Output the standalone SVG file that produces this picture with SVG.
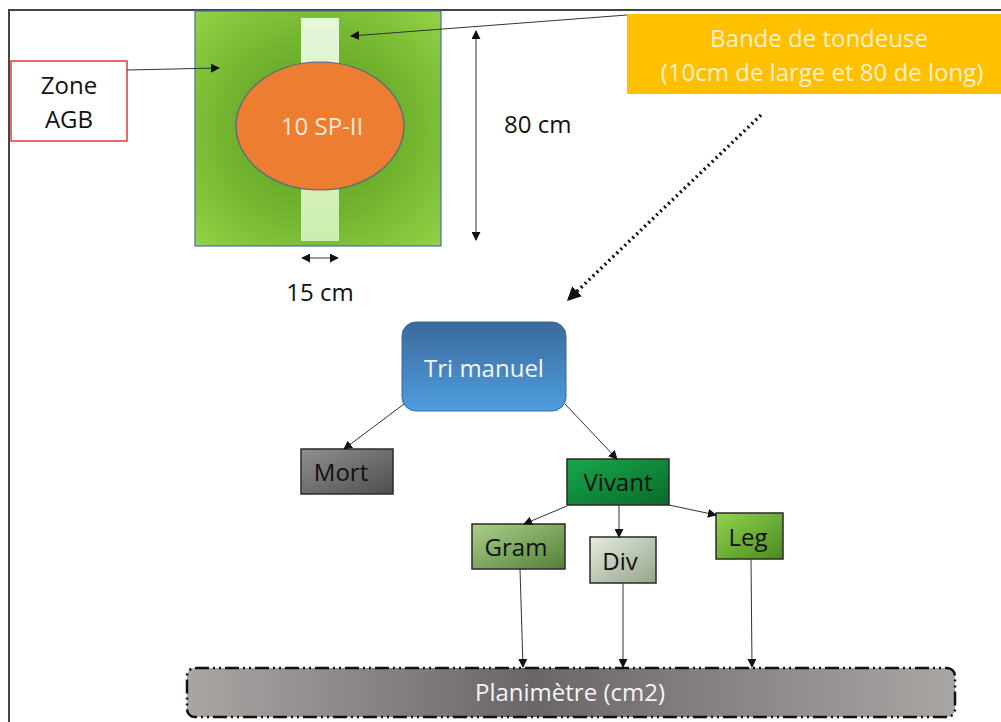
<svg xmlns="http://www.w3.org/2000/svg" width="1001" height="722" viewBox="0 0 1001 722">
<style>
  text { font-family: "Open Sans", "Liberation Sans", sans-serif; }
  .conn { stroke: #333; stroke-width: 1; fill: none; }
  .box { stroke: #2a2a2a; stroke-width: 1.5; }
  .dark { fill: #111; font-size: 24px; text-anchor: middle; }
  .light { fill: #f4f4f4; font-size: 24px; text-anchor: middle; }
</style>
<defs>
  <marker id="ah" viewBox="0 0 10 10" refX="9" refY="5" markerWidth="9" markerHeight="9" markerUnits="userSpaceOnUse" orient="auto-start-reverse">
    <path d="M0,0 L10,5 L0,10 z" fill="#111"/>
  </marker>
  <marker id="ahBig" viewBox="0 0 10 10" refX="9" refY="5" markerWidth="14" markerHeight="14" markerUnits="userSpaceOnUse" orient="auto">
    <path d="M0,0 L10,5 L0,10 z" fill="#111"/>
  </marker>
  <radialGradient id="gGreen" cx="0.5" cy="0.5" r="0.7">
    <stop offset="0" stop-color="#5f9f25"/>
    <stop offset="0.5" stop-color="#70b12e"/>
    <stop offset="1" stop-color="#92d245"/>
  </radialGradient>
  <linearGradient id="gStrip" x1="0" y1="0" x2="0" y2="1">
    <stop offset="0" stop-color="#e6f6da"/>
    <stop offset="1" stop-color="#cdeeb0"/>
  </linearGradient>
  <linearGradient id="gBlue" x1="0" y1="0" x2="0" y2="1">
    <stop offset="0" stop-color="#3a6a9a"/>
    <stop offset="1" stop-color="#4f9de0"/>
  </linearGradient>
  <linearGradient id="gMort" x1="0" y1="0" x2="1" y2="1">
    <stop offset="0" stop-color="#909090"/>
    <stop offset="1" stop-color="#4e4e4e"/>
  </linearGradient>
  <linearGradient id="gViv" x1="0" y1="0" x2="1" y2="1">
    <stop offset="0" stop-color="#16a84a"/>
    <stop offset="1" stop-color="#0b6a2a"/>
  </linearGradient>
  <linearGradient id="gGram" x1="0" y1="0" x2="1" y2="1">
    <stop offset="0" stop-color="#a9d08a"/>
    <stop offset="1" stop-color="#557f38"/>
  </linearGradient>
  <linearGradient id="gDiv" x1="0" y1="0" x2="1" y2="1">
    <stop offset="0" stop-color="#e4ecdc"/>
    <stop offset="1" stop-color="#96a48c"/>
  </linearGradient>
  <linearGradient id="gLeg" x1="0" y1="0" x2="1" y2="1">
    <stop offset="0" stop-color="#92d44c"/>
    <stop offset="1" stop-color="#4a8a20"/>
  </linearGradient>
  <linearGradient id="gPlan" x1="0" y1="0" x2="1" y2="0">
    <stop offset="0" stop-color="#aaa6a4"/>
    <stop offset="0.45" stop-color="#6a6668"/>
    <stop offset="1" stop-color="#aaa6a4"/>
  </linearGradient>
</defs>

<!-- outer frame -->
<path d="M9,722 V10 H1001" fill="none" stroke="#444" stroke-width="2"/>

<!-- plot -->
<g id="plot">
  <rect x="195" y="11" width="246" height="235" fill="url(#gGreen)" stroke="#4a6fa0" stroke-width="1.2"/>
  <rect x="301" y="18" width="38" height="223" fill="url(#gStrip)"/>
  <ellipse cx="320" cy="126" rx="84" ry="64" fill="#ed7d31" stroke="#4a6a8a" stroke-width="1.2"/>
  <text x="322" y="135" class="light" style="fill:#fbe9dc">10 SP-II</text>
</g>

<g id="zone-agb">
  <rect x="11" y="61" width="116" height="80" fill="#fff" stroke="#e8373a" stroke-width="1.5"/>
  <text x="69" y="94" class="dark">Zone</text>
  <text x="69" y="128" class="dark">AGB</text>
</g>

<g id="bande">
  <rect x="627" y="14" width="380" height="80" fill="#ffc000"/>
  <text x="819" y="47" class="light" style="fill:#fdf0cc">Bande de tondeuse</text>
  <text x="822" y="81" class="light" style="fill:#fdf0cc">(10cm de large et 80 de long)</text>
</g>

<g id="dim-80">
  <line x1="476" y1="31" x2="476" y2="240" class="conn" stroke="#111" marker-start="url(#ah)" marker-end="url(#ah)"/>
  <text x="504" y="133" font-size="24" fill="#111">80 cm</text>
</g>

<g id="dim-15">
  <line x1="302" y1="258" x2="338" y2="258" class="conn" stroke="#111" marker-start="url(#ah)" marker-end="url(#ah)"/>
  <text x="320" y="301" class="dark">15 cm</text>
</g>

<g id="tri-manuel">
  <rect x="402" y="322" width="164" height="89" rx="14" fill="url(#gBlue)" stroke="#3a6a9a" stroke-width="1"/>
  <text x="484" y="377" class="light">Tri manuel</text>
</g>

<g id="mort">
  <rect x="301" y="449" width="92" height="45" fill="url(#gMort)" class="box"/>
  <text x="341" y="481" class="dark">Mort</text>
</g>

<g id="vivant">
  <rect x="567" y="459" width="102" height="46" fill="url(#gViv)" class="box"/>
  <text x="618" y="491" class="dark">Vivant</text>
</g>

<g id="gram">
  <rect x="472" y="524" width="93" height="45" fill="url(#gGram)" class="box"/>
  <text x="516" y="556" class="dark">Gram</text>
</g>

<g id="div">
  <rect x="590" y="537" width="66" height="46" fill="url(#gDiv)" class="box"/>
  <text x="620" y="570" class="dark">Div</text>
</g>

<g id="leg">
  <rect x="716" y="513" width="67" height="46" fill="url(#gLeg)" class="box"/>
  <text x="748" y="546" class="dark">Leg</text>
</g>

<g id="planimetre">
  <rect x="187" y="668" width="768" height="49" rx="8" fill="url(#gPlan)" stroke="#111" stroke-width="2.5" stroke-dasharray="14,4,2,4,2,4"/>
  <text x="570" y="701" class="light">Planimètre (cm2)</text>
</g>

<g id="connectors">
  <line x1="127" y1="70" x2="219" y2="68" class="conn" marker-end="url(#ah)"/>
  <line x1="627" y1="15" x2="351" y2="36" class="conn" marker-end="url(#ah)"/>
  <line x1="761" y1="115" x2="568" y2="300" stroke="#111" stroke-width="3.5" stroke-dasharray="2,3.5" fill="none" marker-end="url(#ahBig)"/>
  <line x1="404" y1="404" x2="344" y2="449" class="conn" marker-end="url(#ah)"/>
  <line x1="565" y1="404" x2="617" y2="459" class="conn" marker-end="url(#ah)"/>
  <line x1="567" y1="506" x2="524" y2="524" class="conn" marker-end="url(#ah)"/>
  <line x1="619" y1="505" x2="619" y2="537" class="conn" marker-end="url(#ah)"/>
  <line x1="669" y1="505" x2="716" y2="515" class="conn" marker-end="url(#ah)"/>
  <line x1="520" y1="569" x2="523" y2="667" class="conn" marker-end="url(#ah)"/>
  <line x1="623" y1="583" x2="623" y2="667" class="conn" marker-end="url(#ah)"/>
  <line x1="751" y1="559" x2="752" y2="667" class="conn" marker-end="url(#ah)"/>
</g>
</svg>
